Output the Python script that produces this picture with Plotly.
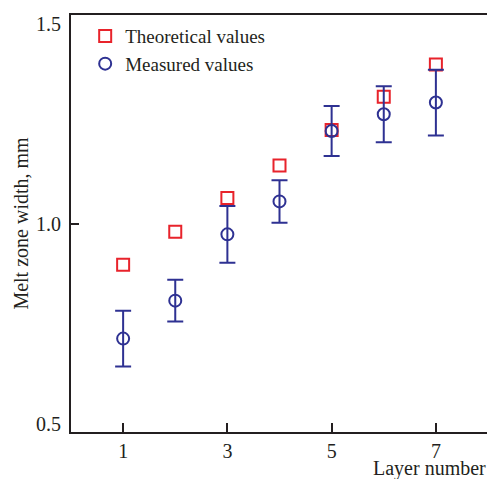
import plotly.graph_objects as go

layers = [1, 2, 3, 4, 5, 6, 7]
theoretical = [0.901, 0.980, 1.061, 1.139, 1.224, 1.304, 1.381]
measured = [0.724, 0.815, 0.974, 1.053, 1.222, 1.262, 1.290]
measured_err = [0.067, 0.050, 0.068, 0.051, 0.060, 0.067, 0.079]

x_ticks = [1, 3, 5, 7]
x_ticklabels = ["1", "3", "5", "7"]
y_ticks = [0.5, 1.0, 1.5]
y_ticklabels = ["0.5", "1.0", "1.5"]

RED = "#e8232b"
BLUE = "#2e3192"
AXIS = "#231f20"
FONT = "Liberation Serif"

fig = go.Figure()
fig.add_trace(go.Scatter(
    x=layers, y=theoretical, mode="markers", name="Theoretical values",
    marker=dict(symbol="square-open", size=12, color=RED, line=dict(width=2, color=RED)),
))
fig.add_trace(go.Scatter(
    x=layers, y=measured, mode="markers", name="Measured values",
    marker=dict(symbol="circle-open", size=12, color=BLUE, line=dict(width=2, color=BLUE)),
    error_y=dict(type="data", array=measured_err, visible=True, color=BLUE, thickness=2, width=8),
))

# the page body has an 8px margin, so the figure is sized to fill the rest of the window
fig.update_layout(
    width=487, height=471,
    margin=dict(l=63, r=7, t=5, b=47),
    paper_bgcolor="white", plot_bgcolor="white",
    font=dict(family=FONT, size=20, color=AXIS),
    showlegend=True,
    legend=dict(x=0.034, y=0.995, xanchor="left", yanchor="top",
                bgcolor="rgba(0,0,0,0)", font=dict(size=19, family=FONT, color=AXIS),
                tracegroupgap=0),
    xaxis=dict(range=[0, 8], tickvals=x_ticks, ticktext=x_ticklabels,
               ticks="inside", ticklen=9, tickwidth=1.5, tickcolor=AXIS,
               showline=True, linecolor=AXIS, linewidth=2, mirror=True,
               showgrid=False, zeroline=False,
               tickfont=dict(size=20, family=FONT, color=AXIS)),
    yaxis=dict(range=[0.5, 1.5], tickvals=y_ticks, showticklabels=False,
               ticks="inside", ticklen=8, tickwidth=1.5, tickcolor=AXIS,
               showline=True, linecolor=AXIS, linewidth=2, mirror=True,
               showgrid=False, zeroline=False,
               title=dict(text="Melt zone width, mm", font=dict(size=20, family=FONT, color=AXIS), standoff=35)),
)

# y tick labels: end labels are nudged inward as in the reference
shifts = {0.5: 8, 1.0: 0, 1.5: -9}
for v, t in zip(y_ticks, y_ticklabels):
    fig.add_annotation(text=t, xref="paper", yref="y", x=0, y=v, xanchor="right", yanchor="middle",
                       xshift=-8, yshift=shifts[v], showarrow=False,
                       font=dict(size=20, family=FONT, color=AXIS))

fig.add_annotation(text="Layer number", xref="paper", yref="paper", x=1.0, y=-0.119,
                   xanchor="right", yanchor="bottom", showarrow=False,
                   font=dict(size=20, family=FONT, color=AXIS))

fig.write_html("out.html")
